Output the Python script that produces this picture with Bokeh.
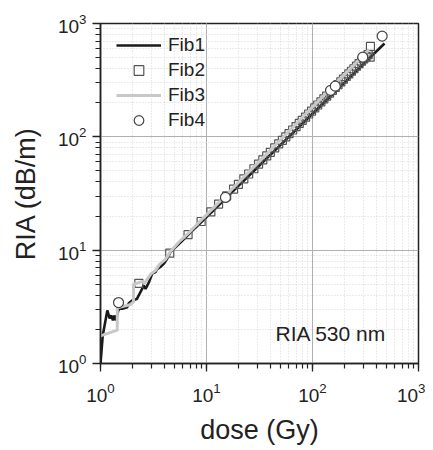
from bokeh.plotting import figure
from bokeh.models import Legend, LegendItem, Label
from bokeh.embed import file_html
from bokeh.resources import INLINE

# ---- data ----
fib1_dose = [1.0, 1.05, 1.16, 1.22, 1.27, 1.31, 1.36, 1.40, 1.47, 1.51, 1.60, 1.79, 1.84, 1.99, 2.2,
             2.47, 2.55, 2.66, 2.86, 3.07, 3.3, 3.42, 3.67, 3.96, 4.25, 4.57, 5.2, 6.0, 7.0, 8.5,
             10, 12, 15, 20, 27, 35, 45, 60, 80, 100, 130, 170, 220, 280, 350, 420, 478]
fib1_ria = [1.0, 1.77, 2.94, 2.5, 2.65, 2.4, 2.65, 2.4, 2.94, 3.04, 3.04, 3.14, 3.38, 3.6, 3.7,
            4.55, 4.9, 4.55, 5.2, 6.2, 6.4, 6.8, 7.1, 7.6, 8.4, 9.6, 10.8, 12.3, 14.2, 16.9,
            19.6, 23.1, 28.4, 36.9, 48.5, 61.5, 77.2, 100.4, 130.5, 160, 203, 259, 328, 409, 502, 592, 666]

fib2_dose = [2.3, 4.5, 6.7, 8.9, 11, 13, 15.5, 18, 20, 22.5, 25, 28, 31, 34, 37, 40, 44, 48, 52, 56,
             60, 65, 70, 75, 80, 86, 92, 98, 105, 112, 120, 128, 136, 145, 154, 164, 174, 185, 196,
             208, 220, 233, 246, 260, 275, 290, 305, 320, 335, 350, 352]
fib2_ria = [5.1, 9.4, 13.7, 17.9, 21.8, 25.5, 30.1, 34.6, 38.1, 42.6, 47, 52.3, 57.5, 62.7, 67.8, 73,
            79.8, 86.5, 93.2, 100, 106.6, 114.9, 123.1, 131.3, 139.5, 149.2, 159, 168.6, 179.8, 191,
            203.8, 216.4, 229, 243.2, 257.3, 272.9, 288.4, 305.4, 322.4, 340.8, 359.2, 378.9, 398.6,
            420, 442.6, 465, 487.5, 509.8, 532.1, 505, 628]

fib3_dose = [1.0, 1.44, 1.44, 1.9, 2.05, 2.05, 2.5, 2.6, 3.0, 3.3, 3.6, 4.1, 4.6, 5.5, 7.0, 9.0,
             11.5, 15, 20, 27, 36, 48, 65, 85, 110, 145, 190, 240, 300, 340]
fib3_ria = [1.75, 1.97, 3.1, 3.3, 3.5, 5.0, 5.3, 5.1, 6.2, 6.6, 7.5, 8.3, 9.8, 11.8, 14.6, 18.6,
            23.4, 30, 39.5, 52.5, 69, 91, 121, 157, 201, 262, 338, 420, 520, 585]

fib4_dose = [1.48, 15.1, 148, 164, 298, 454]
fib4_ria = [3.45, 29.2, 257, 280, 505, 774]

annotation = "RIA 530 nm"
x_title = "dose (Gy)"
y_title = "RIA (dB/m)"

FONT = "Liberation Sans"
DARK = "#222222"

p = figure(x_axis_type="log", y_axis_type="log", x_range=(1, 1000), y_range=(1, 1000),
           width=425, height=448, min_border_left=100, min_border_top=23,
           min_border_right=7, min_border_bottom=85,
           output_backend="svg", toolbar_location=None)
p.background_fill_color = "white"
p.border_fill_color = "white"
p.outline_line_color = DARK
p.outline_line_width = 1.5

for ax in (p.xaxis[0], p.yaxis[0]):
    ax.axis_label_text_font = FONT
    ax.axis_label_text_font_size = "27px"
    ax.axis_label_text_font_style = "normal"
    ax.axis_label_text_color = DARK
    ax.major_label_text_font = FONT
    ax.major_label_text_font_size = "19px"
    ax.major_label_text_color = DARK
    ax.axis_line_color = DARK
    ax.axis_line_width = 1.5
    ax.major_tick_line_color = DARK
    ax.minor_tick_line_color = DARK
    ax.major_tick_line_width = 1.3
    ax.minor_tick_line_width = 1.2
    ax.major_tick_out = 8
    ax.major_tick_in = 0
    ax.minor_tick_out = 5
    ax.minor_tick_in = 0
    ax.major_label_standoff = 6
p.xaxis.axis_label = x_title
p.yaxis.axis_label = y_title
p.xaxis.major_label_standoff = 11
p.xaxis.axis_label_standoff = 10
p.yaxis.axis_label_standoff = 14

for g in (p.xgrid[0], p.ygrid[0]):
    g.grid_line_color = "#b0b0b0"
    g.grid_line_width = 1
    g.minor_grid_line_color = "#d6d6d6"
    g.minor_grid_line_dash = "1 2"
    g.minor_grid_line_width = 1

r1 = p.line(fib1_dose, fib1_ria, line_color="#1a1a1a", line_width=2.6)
r2 = p.scatter(fib2_dose, fib2_ria, marker="square", size=8, fill_color=None,
               line_color="#555555", line_width=1.2)
r3 = p.line(fib3_dose, fib3_ria, line_color="#c8c8c8", line_width=3)
r4 = p.scatter(fib4_dose, fib4_ria, marker="circle", size=10, fill_color="white",
               line_color="#444444", line_width=1.2)

legend = Legend(items=[LegendItem(label="Fib1", renderers=[r1]),
                       LegendItem(label="Fib2", renderers=[r2]),
                       LegendItem(label="Fib3", renderers=[r3]),
                       LegendItem(label="Fib4", renderers=[r4])],
                location=(16, 231), padding=0, margin=0, spacing=1,
                glyph_width=45, glyph_height=24, label_height=24, label_standoff=7,
                label_text_font=FONT, label_text_font_size="19px", label_text_color=DARK,
                border_line_color=None, background_fill_alpha=0)
p.add_layout(legend, "center")

p.add_layout(Label(x=175, y=30, x_units="screen", y_units="screen", text=annotation,
                   text_font=FONT, text_font_size="21px", text_color=DARK,
                   text_baseline="middle"))

open("out.html", "w").write(file_html(p, INLINE))
